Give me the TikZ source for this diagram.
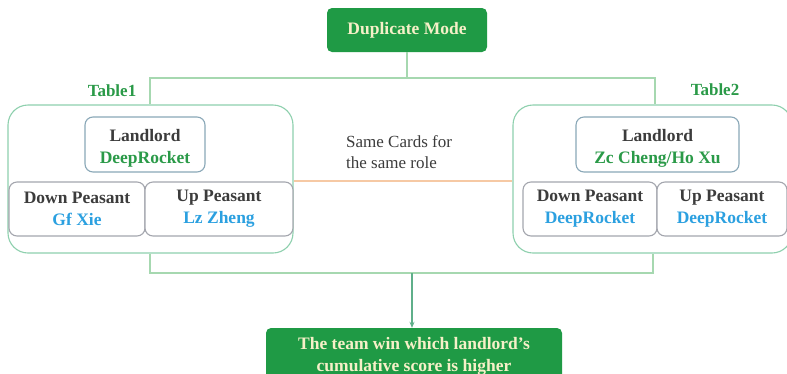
\documentclass[tikz,border=0pt]{standalone}
\usepackage{fontspec}
\setmainfont{Liberation Serif}
\usetikzlibrary{arrows.meta,calc}
\definecolor{dkgreen}{HTML}{1F9A45}
\definecolor{cream}{HTML}{F6F0C8}
\definecolor{lgreen}{HTML}{A6D8B0}
\definecolor{tgreen}{HTML}{8ED0AE}
\definecolor{boxgray}{HTML}{A4A6AE}
\definecolor{boxblue}{HTML}{8AA8B8}
\definecolor{txtgray}{HTML}{3C3C3C}
\definecolor{namegreen}{HTML}{2A9A48}
\definecolor{nameblue}{HTML}{2BA0E0}
\definecolor{orangel}{HTML}{F6C9A4}
\definecolor{arrowc}{HTML}{5FAF8A}
\tikzset{
  greenbox/.style={fill=dkgreen, draw=none, rounded corners=5pt, text=cream, font=\fontsize{17.5}{22}\selectfont\bfseries, align=center, inner sep=0pt},
  tablebox/.style={draw=tgreen, line width=1.1pt, rounded corners=20pt, inner sep=0pt},
  rolebox/.style={draw=boxgray, line width=1.1pt, rounded corners=8pt, fill=white, align=center, inner sep=0pt, font=\fontsize{17.5}{22}\selectfont\bfseries, text=txtgray},
  llbox/.style={rolebox, draw=boxblue},
  conn/.style={draw=lgreen, line width=1.3pt},
  tlabel/.style={text=namegreen, font=\fontsize{17}{20}\selectfont\bfseries, inner sep=0pt},
  orangeline/.style={draw=orangel, line width=1.3pt},
}
\newcommand{\toppad}{\rule{0pt}{20pt}}
\begin{document}
\begin{tikzpicture}[x=1pt,y=-1pt]
\useasboundingbox (0,0) rectangle (787,373);
\fill[white] (0,0) rectangle (787,373);
% top box
\node[greenbox, minimum width=160pt, minimum height=44pt] (top) at (407,30) {Duplicate Mode};
% tables
\node[tablebox, minimum width=285pt, minimum height=148pt] (t1) at (150.5,179) {};
\node[tablebox, minimum width=279pt, minimum height=148pt] (t2) at (652.5,179) {};
\node[tlabel] (lab1) at (112,91) {Table1};
\node[tlabel] (lab2) at (715,90) {Table2};
% role boxes table1
\node[llbox, minimum width=120pt, minimum height=55pt] (l1) at (145,144.5) {\toppad Landlord\\\textcolor{namegreen}{DeepRocket}};
\node[rolebox, minimum width=136pt, minimum height=54pt] (d1) at (77,209) {Down Peasant\\\textcolor{nameblue}{Gf Xie}};
\node[rolebox, minimum width=148pt, minimum height=54pt] (u1) at (219,209) {Up Peasant\\\textcolor{nameblue}{Lz Zheng}};
% role boxes table2
\node[llbox, minimum width=163pt, minimum height=55pt] (l2) at (657.5,144.5) {\toppad Landlord\\\textcolor{namegreen}{Zc Cheng/Ho Xu}};
\node[rolebox, minimum width=134pt, minimum height=54pt] (d2) at (590,209) {Down Peasant\\\textcolor{nameblue}{DeepRocket}};
\node[rolebox, minimum width=130pt, minimum height=54pt] (u2) at (722,209) {Up Peasant\\\textcolor{nameblue}{DeepRocket}};
% same cards
\node[anchor=west, align=left, text=txtgray, font=\fontsize{17}{21}\selectfont, inner sep=0pt] (same) at (346,152) {Same Cards for\\the same role};
\draw[orangeline] ([yshift=-2pt]t1.east) -- ([yshift=-2pt]t2.west);
% bottom box
\node[greenbox, minimum width=296pt, minimum height=56pt] (bot) at (414,356) {The team win which landlord’s\\cumulative score is higher};
% connectors
\coordinate (jT) at (407,78);
\coordinate (jL) at (150,78);
\coordinate (jR) at (655,78);
\draw[conn] (top.south) -- (jT);
\draw[conn] (jL |- t1.north) -- (jL) -- (jR) -- (jR |- t2.north);
\coordinate (bL) at (150,273);
\coordinate (bR) at (653,273);
\coordinate (bA) at (412,273);
\draw[conn] (bL |- t1.south) -- (bL) -- (bR) -- (bR |- t2.south);
\draw[draw=arrowc, line width=1.1pt, -{Stealth[length=6pt,width=5pt]}] (bA) -- (bA |- bot.north);
\end{tikzpicture}
\end{document}
